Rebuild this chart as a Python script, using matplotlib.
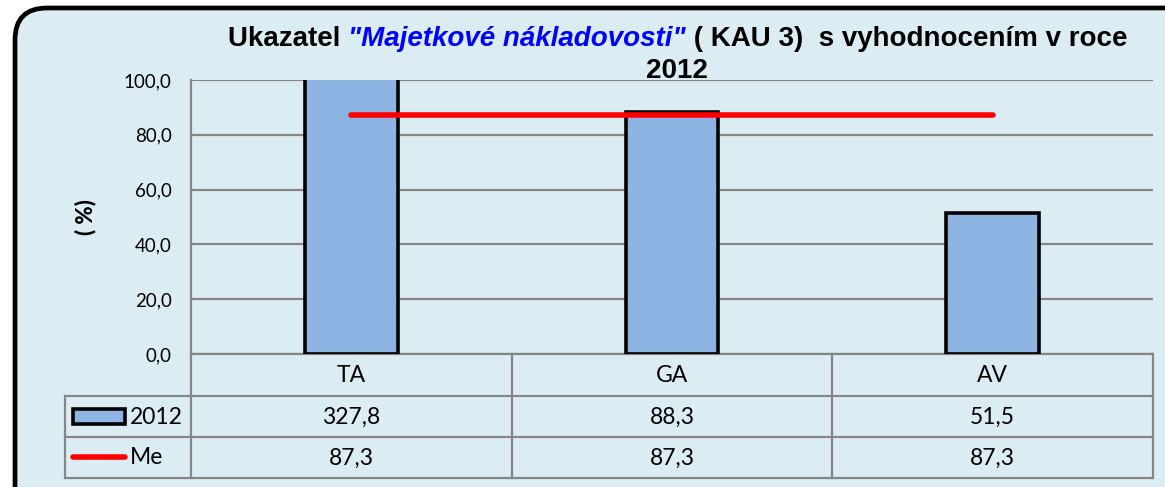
import matplotlib
matplotlib.use("Agg")
import matplotlib.pyplot as plt
from matplotlib.patches import FancyBboxPatch, Rectangle
from matplotlib.lines import Line2D

kategorie = ["TA", "GA", "AV"]
hodnoty_2012 = [327.8, 88.3, 51.5]
median = [87.3, 87.3, 87.3]
yticks = [0, 20, 40, 60, 80, 100]

BG = "#dbedf3"
BAR = "#8db4e2"
GRID = "#868686"
TXT_FONT = "Lato"
TITLE_FONT = "Liberation Sans"


def fmt(v):
    return f"{v:.1f}".replace(".", ",")


W, H = 1165, 487
fig = plt.figure(figsize=(W / 100, H / 100), dpi=100)
fig.patch.set_facecolor("white")

# vrstva v pixelech pro ramecek a tabulku
bg = fig.add_axes([0, 0, 1, 1], zorder=0)
bg.set_xlim(0, W)
bg.set_ylim(H, 0)
bg.axis("off")
bg.add_patch(FancyBboxPatch((15, 8), 1200, 520, boxstyle="round,pad=0,rounding_size=32",
                            facecolor=BG, edgecolor="black", linewidth=3.4))

x0, x1, ytop, ybot = 191, 1153, 80, 354
ax = fig.add_axes([x0 / W, 1 - ybot / H, (x1 - x0) / W, (ybot - ytop) / H], zorder=2)
ax.patch.set_alpha(0)
pozice = list(range(len(kategorie)))
ax.bar(pozice, hodnoty_2012, width=0.29, color=BAR, edgecolor="black", linewidth=2.6, zorder=3)
ax.plot(pozice, median, color="#ff0000", linewidth=4, solid_capstyle="round", zorder=4)
ax.set_xlim(-0.5, 2.5)
ax.set_ylim(0, 100)
ax.set_yticks(yticks)
ax.set_yticklabels([fmt(v) for v in yticks], fontfamily=TXT_FONT, fontsize=13.5)
ax.set_xticks([])
ax.tick_params(axis="y", length=0, pad=14)
for y in yticks:
    ax.axhline(y, color=GRID, linewidth=1.6, zorder=1)
for s in ["top", "right", "bottom"]:
    ax.spines[s].set_visible(False)
ax.spines["left"].set_color(GRID)
ax.spines["left"].set_linewidth(1.6)
ax.set_ylabel("( %)", fontfamily=TXT_FONT, fontsize=16, fontweight="black", labelpad=20)

# tabulka dat
sloupce = [65, 191, 512, 832, 1153]
radky = [354, 396, 437, 478]
lc = dict(color=GRID, linewidth=1.6)
bg.add_line(Line2D([191, 1153], [354, 354], **lc))
for y in radky[1:]:
    bg.add_line(Line2D([65, 1153], [y, y], **lc))
bg.add_line(Line2D([65, 65], [396, 478], **lc))
bg.add_line(Line2D([191, 191], [354, 478], **lc))
for x in sloupce[2:]:
    bg.add_line(Line2D([x, x], [354, 478], **lc))

tk = dict(fontfamily=TXT_FONT, fontsize=16.5, ha="center", va="center")
for i, k in enumerate(kategorie):
    cx = (sloupce[i + 1] + sloupce[i + 2]) / 2
    bg.text(cx, 375, k, **tk)
    bg.text(cx, 417, fmt(hodnoty_2012[i]), **tk)
    bg.text(cx, 458, fmt(median[i]), **tk)

bg.add_patch(Rectangle((73, 409), 52, 15, facecolor=BAR, edgecolor="black", linewidth=2.6))
bg.add_line(Line2D([73, 125], [457, 457], color="#ff0000", linewidth=4, solid_capstyle="round"))
bg.text(130, 417, "2012", fontfamily=TXT_FONT, fontsize=16.5, va="center")
bg.text(130, 458, "Me", fontfamily=TXT_FONT, fontsize=16.5, va="center")

# nadpis ve trech castech
tt = dict(fontfamily=TITLE_FONT, fontsize=20, fontweight="bold", va="baseline")
casti = [("Ukazatel ", "black", "normal"),
         ('"Majetkové nákladovosti"', "#0000ff", "italic"),
         (" ( KAU 3)  s vyhodnocením v roce", "black", "normal")]
texty = [bg.text(0, 46, t, color=c, fontstyle=st, **tt) for t, c, st in casti]
fig.canvas.draw()
r = fig.canvas.get_renderer()
sirky = [t.get_window_extent(r).width for t in texty]
x = 678 - sum(sirky) / 2
for t, w in zip(texty, sirky):
    t.set_x(x)
    x += w
bg.text(677, 78, "2012", color="black", ha="center", **tt)

fig.savefig("out.png", dpi=100)
